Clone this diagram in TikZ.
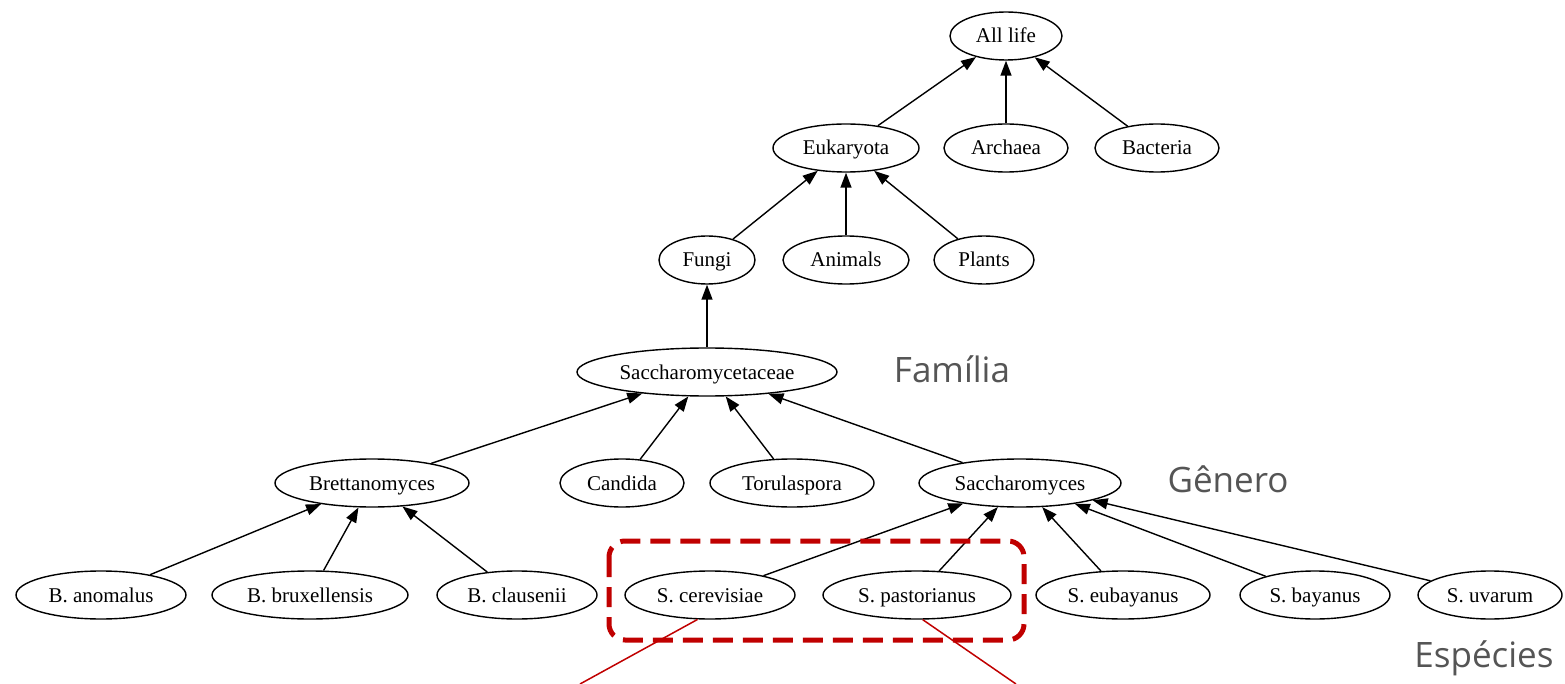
\documentclass[tikz,border=0pt]{standalone}
\usepackage{fontspec}
\setmainfont{Liberation Serif}
\newfontfamily\labelfont{Open Sans}
\usetikzlibrary{shapes.geometric,arrows.meta}
\definecolor{hlred}{HTML}{C00000}
\definecolor{lblgray}{HTML}{555555}
\tikzset{
  taxon/.style={draw=black, line width=1.4pt, ellipse, inner sep=0pt, minimum height=48pt, text height=18pt, text depth=4pt, font=\fontsize{21}{24}\selectfont},
  edge/.style={draw=black, line width=1.4pt, -{Triangle[length=15pt,width=11pt]}},
  ranklabel/.style={text=lblgray, font=\labelfont\fontsize{35}{40}\selectfont, inner sep=0pt},
  highlight/.style={draw=hlred, line width=5pt, dash pattern=on 20pt off 10pt, rounded corners=16pt},
  pointer/.style={draw=hlred, line width=1.5pt}
}
\begin{document}
\begin{tikzpicture}[x=1pt,y=-1pt]
\useasboundingbox (0,0) rectangle (1565,684);
% nodes
\node[taxon, minimum width=112pt] (all) at (1006,36) {All life};
\node[taxon, minimum width=146pt] (euk) at (846,148) {Eukaryota};
\node[taxon, minimum width=124pt] (arc) at (1006,148) {Archaea};
\node[taxon, minimum width=124pt] (bac) at (1157,148) {Bacteria};
\node[taxon, minimum width=96pt] (fun) at (707,260) {Fungi};
\node[taxon, minimum width=126pt] (ani) at (846,260) {Animals};
\node[taxon, minimum width=100pt] (pla) at (984,260) {Plants};
\node[taxon, minimum width=260pt] (sac) at (707,372) {Saccharomycetaceae};
\node[taxon, minimum width=194pt] (bre) at (372,483) {Brettanomyces};
\node[taxon, minimum width=124pt] (can) at (622,483) {Candida};
\node[taxon, minimum width=164pt] (tor) at (792,483) {Torulaspora};
\node[taxon, minimum width=202pt] (sag) at (1020,483) {Saccharomyces};
\node[taxon, minimum width=170pt] (ban) at (101,595) {B. anomalus};
\node[taxon, minimum width=196pt] (bbr) at (310,595) {B. bruxellensis};
\node[taxon, minimum width=160pt] (bcl) at (517,595) {B. clausenii};
\node[taxon, minimum width=170pt] (sce) at (710,595) {S. cerevisiae};
\node[taxon, minimum width=188pt] (spa) at (917,595) {S. pastorianus};
\node[taxon, minimum width=174pt] (seu) at (1123,595) {S. eubayanus};
\node[taxon, minimum width=150pt] (sba) at (1315,595) {S. bayanus};
\node[taxon, minimum width=144pt] (suv) at (1490,595) {S. uvarum};
% edges
\draw[edge] (euk) -- (all);
\draw[edge] (arc) -- (all);
\draw[edge] (bac) -- (all);
\draw[edge] (fun) -- (euk);
\draw[edge] (ani) -- (euk);
\draw[edge] (pla) -- (euk);
\draw[edge] (sac) -- (fun);
\draw[edge] (bre) -- (sac);
\draw[edge] (can) -- (sac);
\draw[edge] (tor) -- (sac);
\draw[edge] (sag) -- (sac);
\draw[edge] (ban) -- (bre);
\draw[edge] (bbr) -- (bre);
\draw[edge] (bcl) -- (bre);
\draw[edge] (sce) -- (sag);
\draw[edge] (spa) -- (sag);
\draw[edge] (seu) -- (sag);
\draw[edge] (sba) -- (sag);
\draw[edge] (suv) -- (sag);
% rank labels
\node[ranklabel] (lfam) at (952,369) {Família};
\node[ranklabel] (lgen) at (1228,479) {Gênero};
\node[ranklabel] (lesp) at (1484,658) {Espécies};
% highlight
\draw[highlight] (609,541) rectangle (1024,640);
\coordinate (p1) at (580,684);
\coordinate (p2) at (1016,684);
\draw[pointer] (sce.243) -- (p1);
\draw[pointer] (spa.283) -- (p2);
\end{tikzpicture}
\end{document}
